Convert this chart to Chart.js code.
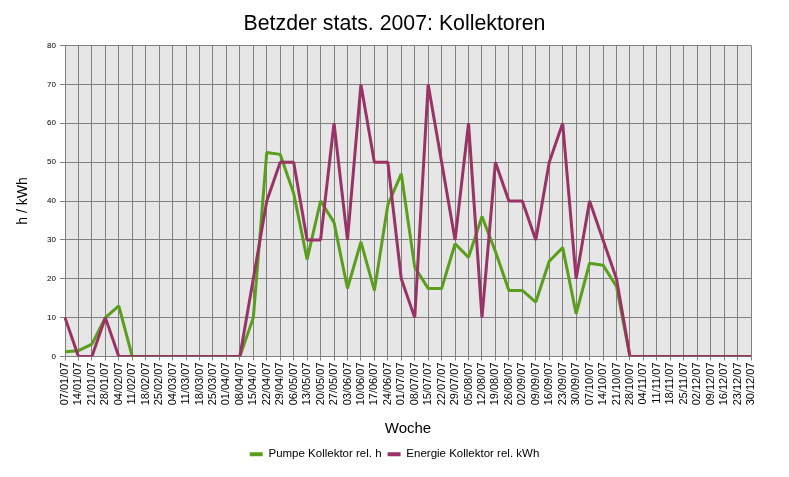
<!DOCTYPE html>
<html>
<head>
<meta charset="utf-8">
<script src="https://cdn.jsdelivr.net/npm/chart.js@4/dist/chart.umd.min.js"></script>
<style>
  html, body { margin: 0; padding: 0; background: #fff; }
  #wrap { width: 789px; height: 477px; position: relative; }
</style>
</head>
<body>
<div id="wrap"><canvas id="chart" width="789" height="477"></canvas></div>
<script>
// ── Daten ─────────────────────────────────────
const WEEKS = [
  "07/01/07", "14/01/07", "21/01/07", "28/01/07", "04/02/07", "11/02/07", "18/02/07",
  "25/02/07", "04/03/07", "11/03/07", "18/03/07", "25/03/07", "01/04/07", "08/04/07",
  "15/04/07", "22/04/07", "29/04/07", "06/05/07", "13/05/07", "20/05/07", "27/05/07",
  "03/06/07", "10/06/07", "17/06/07", "24/06/07", "01/07/07", "08/07/07", "15/07/07",
  "22/07/07", "29/07/07", "05/08/07", "12/08/07", "19/08/07", "26/08/07", "02/09/07",
  "09/09/07", "16/09/07", "23/09/07", "30/09/07", "07/10/07", "14/10/07", "21/10/07",
  "28/10/07", "04/11/07", "11/11/07", "18/11/07", "25/11/07", "02/12/07", "09/12/07",
  "16/12/07", "23/12/07", "30/12/07",
];

// Pumpe Kollektor rel. h
const PUMPE = [
  1.2, 1.5, 3.2, 10, 13, 0, 0, 0, 0, 0, 0, 0, 0, 0,
  10, 52.5, 52, 42, 25, 40, 34.5, 17.5, 29.5, 17, 39, 47, 23, 17.5,
  17.5, 29, 25.5, 36, 27, 17, 17, 14, 24.5, 28, 11, 24, 23.5, 18,
  0, 0, 0, 0, 0, 0, 0, 0, 0, 0,
];

// Energie Kollektor rel. kWh
const ENERGIE = [
  10, 0, 0, 10, 0, 0, 0, 0, 0, 0, 0, 0, 0, 0,
  20, 40, 50, 50, 30, 30, 60, 30, 70, 50, 50, 20, 10, 70,
  50, 30, 60, 10, 50, 40, 40, 30, 50, 60, 20, 40, 30, 20,
  0, 0, 0, 0, 0, 0, 0, 0, 0, 0,
];

const Y_MIN = 0;
const Y_MAX = 80;
const Y_STEP = 10;

// ── Farben / Schrift ─────────────────────────
const COLORS = {
  pumpe:   "#5a9e1c",
  energie: "#993366",
  plotBg:  "#e6e6e6",
  grid:    "#808080",
  text:    "#000000",
};
const FONT = "'Liberation Sans', Arial, Helvetica, sans-serif";

// Hintergrund der Zeichenfläche
const plotBackground = {
  id: "plotBackground",
  beforeDraw(chart) {
    const { ctx, chartArea: a } = chart;
    ctx.save();
    ctx.fillStyle = COLORS.plotBg;
    ctx.fillRect(a.left, a.top, a.right - a.left, a.bottom - a.top);
    ctx.restore();
  },
};

const ctx = document.getElementById("chart").getContext("2d");

new Chart(ctx, {
  type: "line",
  data: {
    labels: WEEKS,
    datasets: [
      {
        label: "Pumpe Kollektor rel. h",
        data: PUMPE,
        borderColor: COLORS.pumpe,
        backgroundColor: COLORS.pumpe,
        borderWidth: 3,
        borderJoinStyle: "bevel",
        tension: 0,
        pointRadius: 0,
        fill: false,
        order: 1,
      },
      {
        label: "Energie Kollektor rel. kWh",
        data: ENERGIE,
        borderColor: COLORS.energie,
        backgroundColor: COLORS.energie,
        borderWidth: 3,
        borderJoinStyle: "bevel",
        tension: 0,
        pointRadius: 0,
        fill: false,
        order: 0,
      },
    ],
  },
  options: {
    responsive: false,
    animation: false,
    events: [],
    layout: { padding: { top: 0, left: 0, right: 0, bottom: 7 } },
    plugins: {
      title: {
        display: true,
        text: "Betzder stats. 2007: Kollektoren",
        color: COLORS.text,
        font: { family: FONT, size: 21.3, weight: "normal" },
        padding: { top: 11, bottom: 9 },
      },
      legend: {
        position: "bottom",
        labels: {
          color: COLORS.text,
          font: { family: FONT, size: 11.5 },
          boxWidth: 13,
          boxHeight: 4,
          padding: 6,
          sort: (a, b) => a.datasetIndex - b.datasetIndex,
          // flache Farbstreifen ohne Rahmen
          generateLabels: (chart) =>
            Chart.defaults.plugins.legend.labels.generateLabels(chart)
              .map(l => ({ ...l, lineWidth: 0 })),
        },
      },
      tooltip: { enabled: false },
    },
    scales: {
      x: {
        type: "category",
        offset: false,
        grid: { color: COLORS.grid, lineWidth: 1, tickLength: 4, tickColor: COLORS.grid },
        border: { color: COLORS.grid },
        ticks: {
          autoSkip: false,
          minRotation: 90,
          maxRotation: 90,
          padding: 2,
          color: COLORS.text,
          font: { family: FONT, size: 11 },
        },
        title: {
          display: true,
          text: "Woche",
          color: COLORS.text,
          font: { family: FONT, size: 15 },
          padding: { top: 0, bottom: 5 },
        },
        afterFit(scale) {
          scale.height = 86;
          scale.paddingLeft = 0;
          scale.paddingRight = 0;
        },
      },
      y: {
        min: Y_MIN,
        max: Y_MAX,
        grid: { color: COLORS.grid, lineWidth: 1, tickLength: 5, tickColor: COLORS.grid },
        border: { color: COLORS.grid },
        ticks: {
          stepSize: Y_STEP,
          padding: 4,
          color: COLORS.text,
          font: { family: FONT, size: 8 },
        },
        title: {
          display: true,
          text: "h / kWh",
          color: COLORS.text,
          font: { family: FONT, size: 14 },
          padding: { top: 15, bottom: 0 },
        },
        afterFit(scale) {
          scale.width = 65;
          scale.paddingTop = 0;
          scale.paddingBottom = 0;
        },
      },
      // leerer Rand rechts, damit Titel und Legende mittig bleiben
      yRight: {
        position: "right",
        display: true,
        min: Y_MIN,
        max: Y_MAX,
        grid: { display: false, drawTicks: false },
        border: { display: false },
        ticks: { display: false },
        afterFit(scale) {
          scale.width = 38;
          scale.paddingTop = 0;
          scale.paddingBottom = 0;
        },
      },
    },
  },
  plugins: [plotBackground],
});
</script>
</body>
</html>
